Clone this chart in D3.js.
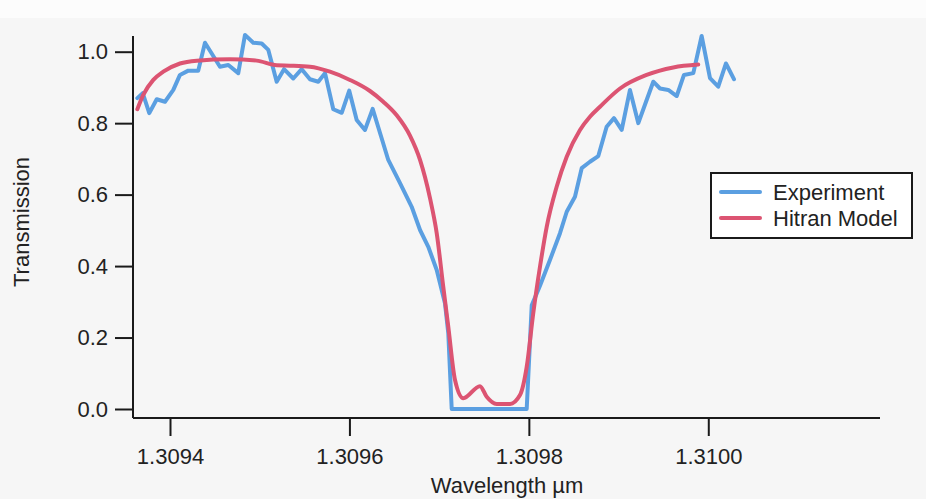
<!DOCTYPE html>
<html>
<head>
<meta charset="utf-8">
<script src="https://cdn.jsdelivr.net/npm/d3@7"></script>
<style>
  html, body { margin: 0; padding: 0; background: #f6f6f6; }
  svg { display: block; }
  text { font-family: "Liberation Sans", Arial, sans-serif; fill: #222; }
</style>
</head>
<body>
<svg id="chart" width="926" height="499"></svg>
<script>
// Experiment (blue) – wavelength in µm, transmission
const expWavelength = [1.3093636,1.3093696,1.3093769,1.3093852,1.3093944,1.3094037,1.3094111,1.3094204,1.3094315,1.3094390,
  1.3094465,1.3094557,1.3094650,1.3094761,1.3094836,1.3094928,1.3095022,1.3095096,1.3095189,1.3095271,
  1.3095374,1.3095468,1.3095560,1.3095653,1.3095728,1.3095820,1.3095914,1.3095998,1.3096081,1.3096173,
  1.3096259,1.3096354,1.3096433,1.3096564,1.3096694,1.3096787,1.3096879,1.3096973,1.3097065,1.3097102,
  1.3097140,1.3097976,1.3098032,1.3098124,1.3098235,1.3098347,1.3098422,1.3098514,1.3098589,1.3098681,
  1.3098774,1.3098867,1.3098949,1.3099035,1.3099127,1.3099220,1.3099306,1.3099387,1.3099462,1.3099554,
  1.3099648,1.3099729,1.3099833,1.3099926,1.3100019,1.3100111,1.3100197,1.3100286];
const expTransmission = [0.870,0.884,0.828,0.867,0.860,0.893,0.935,0.947,0.947,1.025,
  0.995,0.958,0.963,0.940,1.047,1.025,1.023,1.005,0.916,0.951,
  0.925,0.951,0.923,0.916,0.940,0.839,0.829,0.891,0.809,0.781,
  0.840,0.762,0.697,0.632,0.566,0.501,0.454,0.389,0.296,0.212,
  0.000,0.000,0.290,0.345,0.417,0.492,0.552,0.594,0.674,0.692,
  0.708,0.790,0.814,0.781,0.893,0.800,0.860,0.916,0.897,0.893,
  0.876,0.935,0.940,1.044,0.926,0.902,0.967,0.923];

// Hitran Model (red)
const modelWavelength = [1.3093636,1.3093702,1.3093814,1.3093925,1.3094111,1.3094298,1.3094669,1.3094966,1.3095189,1.3095338,
  1.3095560,1.3095783,1.3096006,1.3096229,1.3096377,1.3096527,1.3096675,1.3096787,1.3096898,1.3096973,
  1.3097046,1.3097102,1.3097177,1.3097269,1.3097455,1.3097530,1.3097641,1.3097790,1.3097901,1.3097976,
  1.3098049,1.3098124,1.3098199,1.3098310,1.3098422,1.3098570,1.3098681,1.3098793,1.3099016,1.3099313,
  1.3099610,1.3099888];
const modelTransmission = [0.839,0.879,0.921,0.944,0.967,0.975,0.979,0.975,0.962,0.961,
  0.958,0.944,0.921,0.890,0.860,0.822,0.765,0.697,0.590,0.492,
  0.342,0.230,0.081,0.030,0.064,0.034,0.014,0.014,0.039,0.118,
  0.268,0.398,0.510,0.622,0.706,0.781,0.818,0.846,0.897,0.935,
  0.956,0.964];

const xTicks = [1.3094, 1.3096, 1.3098, 1.3100];
const yTicks = [0.0, 0.2, 0.4, 0.6, 0.8, 1.0];
const seriesNames = ["Experiment", "Hitran Model"];
const seriesColors = ["#5b9fe1", "#dc5472"];

const svg = d3.select("#chart");
svg.append("rect").attr("width", 926).attr("height", 499).attr("fill", "#f6f6f6");
svg.append("rect").attr("width", 926).attr("height", 18).attr("fill", "#fcfcfc");

const x = d3.scaleLinear().domain([1.30935876, 1.31019140]).range([133, 880]);
const y = d3.scaleLinear().domain([0, 1]).range([409, 51.7]);
const yTopVal = y.invert(36);
const yBotVal = y.invert(418);

// Axes (Igor style, offset x axis)
const xAxis = d3.axisBottom(x).tickValues(xTicks).tickSize(18).tickPadding(12)
  .tickFormat(d3.format(".4f"));
const gx = svg.append("g").attr("transform", "translate(0,418)").call(xAxis);
gx.select(".domain").attr("d", `M133,0H880`).attr("stroke", "#1a1a1a").attr("stroke-width", 2);
gx.selectAll(".tick line").attr("stroke", "#1a1a1a").attr("stroke-width", 2);
gx.selectAll(".tick text").attr("font-size", 22).style("font-family", '"Liberation Sans", Arial, sans-serif').attr("fill", "#222");

const yAxis = d3.axisLeft(y).tickValues(yTicks).tickSize(18).tickPadding(7)
  .tickFormat(d3.format(".1f"));
const gy = svg.append("g").attr("transform", "translate(133,0)").call(yAxis);
gy.select(".domain").attr("d", `M0,${y(yTopVal)}V${y(yBotVal)}`).attr("stroke", "#1a1a1a").attr("stroke-width", 2);
gy.selectAll(".tick line").attr("stroke", "#1a1a1a").attr("stroke-width", 2);
gy.selectAll(".tick text").attr("font-size", 22).style("font-family", '"Liberation Sans", Arial, sans-serif').attr("fill", "#222");

// Axis titles
svg.append("text").attr("x", 507).attr("y", 493).attr("text-anchor", "middle")
  .attr("font-size", 22).text("Wavelength \u00b5m");
svg.append("text").attr("transform", "translate(29,222) rotate(-90)").attr("text-anchor", "middle")
  .attr("font-size", 22).text("Transmission");

// Lines
const expData = expWavelength.map((w, i) => [w, expTransmission[i]]);
const modelData = modelWavelength.map((w, i) => [w, modelTransmission[i]]);

svg.append("path").datum(expData)
  .attr("d", d3.line().x(d => x(d[0])).y(d => y(d[1])).curve(d3.curveLinear))
  .attr("fill", "none").attr("stroke", seriesColors[0]).attr("stroke-width", 4)
  .attr("stroke-linejoin", "round").attr("stroke-linecap", "round");
svg.append("path").datum(modelData)
  .attr("d", d3.line().x(d => x(d[0])).y(d => y(d[1])).curve(d3.curveMonotoneX))
  .attr("fill", "none").attr("stroke", seriesColors[1]).attr("stroke-width", 4)
  .attr("stroke-linejoin", "round").attr("stroke-linecap", "round");

// Legend
const lg = svg.append("g");
lg.append("rect").attr("x", 711).attr("y", 173).attr("width", 201).attr("height", 65)
  .attr("fill", "#ffffff").attr("stroke", "#1a1a1a").attr("stroke-width", 2);
seriesNames.forEach((name, i) => {
  const ly = 192 + i * 26;
  lg.append("line").attr("x1", 721).attr("x2", 760).attr("y1", ly).attr("y2", ly)
    .attr("stroke", seriesColors[i]).attr("stroke-width", 4).attr("stroke-linecap", "round");
  lg.append("text").attr("x", 773).attr("y", ly + 8).attr("font-size", 22).text(name);
});
</script>
</body>
</html>
